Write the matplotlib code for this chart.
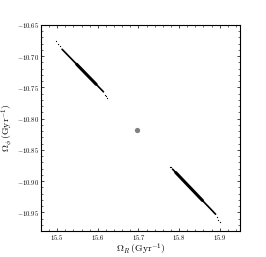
import matplotlib
matplotlib.use('Agg')
import matplotlib.pyplot as plt
from matplotlib.ticker import MultipleLocator, FormatStrFormatter

plt.rcParams['mathtext.fontset'] = 'cm'
plt.rcParams['font.family'] = 'serif'
plt.rcParams['font.serif'] = ['DejaVu Serif']

# upper-left orbit frequencies (thin line of points)
up_x = [15.512, 15.520, 15.528, 15.536, 15.544, 15.552, 15.560, 15.568,
        15.576, 15.584, 15.592, 15.600, 15.608, 15.614]
up_y = [-10.6890, -10.6943, -10.6997, -10.7050, -10.7104, -10.7157, -10.7211,
        -10.7264, -10.7318, -10.7371, -10.7424, -10.7478, -10.7531, -10.7571]
# dense middle part
up_core_x = [15.548, 15.554, 15.560, 15.566, 15.572, 15.578, 15.584, 15.590, 15.596]
up_core_y = [-10.7130, -10.7171, -10.7211, -10.7251, -10.7291, -10.7331, -10.7371,
             -10.7411, -10.7451]
# sparse stragglers
up_tail_x = [15.498, 15.503, 15.506, 15.617, 15.620, 15.623]
up_tail_y = [-10.676, -10.681, -10.684, -10.762, -10.764, -10.767]

# lower-right orbit frequencies
lo_x = [15.784, 15.790, 15.798, 15.806, 15.814, 15.822, 15.830, 15.838,
        15.846, 15.854, 15.862, 15.870, 15.878, 15.886, 15.890]
lo_y = [-10.8809, -10.8850, -10.8904, -10.8959, -10.9013, -10.9068, -10.9122,
        -10.9176, -10.9231, -10.9285, -10.9340, -10.9394, -10.9448, -10.9503, -10.9530]
lo_core_x = [15.792, 15.798, 15.804, 15.810, 15.816, 15.822, 15.828, 15.834,
             15.840, 15.846, 15.852, 15.858]
lo_core_y = [-10.8864, -10.8904, -10.8945, -10.8986, -10.9027, -10.9068, -10.9108,
             -10.9149, -10.9190, -10.9231, -10.9272, -10.9312]
lo_tail_x = [15.7776, 15.781, 15.893, 15.897, 15.9005]
lo_tail_y = [-10.8774, -10.878, -10.958, -10.962, -10.966]

# central point
c_x = [15.697]
c_y = [-10.819]

fig = plt.figure(figsize=(2.66, 2.57), dpi=100)
ax = fig.add_axes([0.154, 0.101, 0.748, 0.802])

ax.plot(up_x, up_y, 'k-', lw=1.2, solid_capstyle='round')
ax.plot(up_core_x, up_core_y, 'k-', lw=2.2, solid_capstyle='round')
ax.plot(up_tail_x, up_tail_y, 'ko', ms=0.9, mew=0)
ax.plot(lo_x, lo_y, 'k-', lw=1.2, solid_capstyle='round')
ax.plot(lo_core_x, lo_core_y, 'k-', lw=2.2, solid_capstyle='round')
ax.plot(lo_tail_x, lo_tail_y, 'ko', ms=0.9, mew=0)
ax.plot(c_x, c_y, 'o', color='#808080', ms=3.8, mew=0)

ax.set_xlim(15.46, 15.95)
ax.set_ylim(-10.98, -10.65)

ax.xaxis.set_major_locator(MultipleLocator(0.1))
ax.xaxis.set_minor_locator(MultipleLocator(0.02))
ax.yaxis.set_major_locator(MultipleLocator(0.05))
ax.yaxis.set_minor_locator(MultipleLocator(0.01))
ax.xaxis.set_major_formatter(FormatStrFormatter('$%.1f$'))
ax.yaxis.set_major_formatter(FormatStrFormatter('$%.2f$'))
ax.tick_params(which='both', direction='in', top=True, right=True, labelsize=4.8, pad=1.5)
ax.tick_params(which='major', length=2.5, width=0.5)
ax.tick_params(which='minor', length=1.3, width=0.4)
for s in ax.spines.values():
    s.set_linewidth(0.8)

ax.set_xlabel(r'$\Omega_R\,(\mathrm{Gyr}^{-1})$', fontsize=7, labelpad=-0.5)
ax.set_ylabel(r'$\Omega_\phi\,(\mathrm{Gyr}^{-1})$', fontsize=7, labelpad=1.5)

fig.savefig('out.png', dpi=100)
